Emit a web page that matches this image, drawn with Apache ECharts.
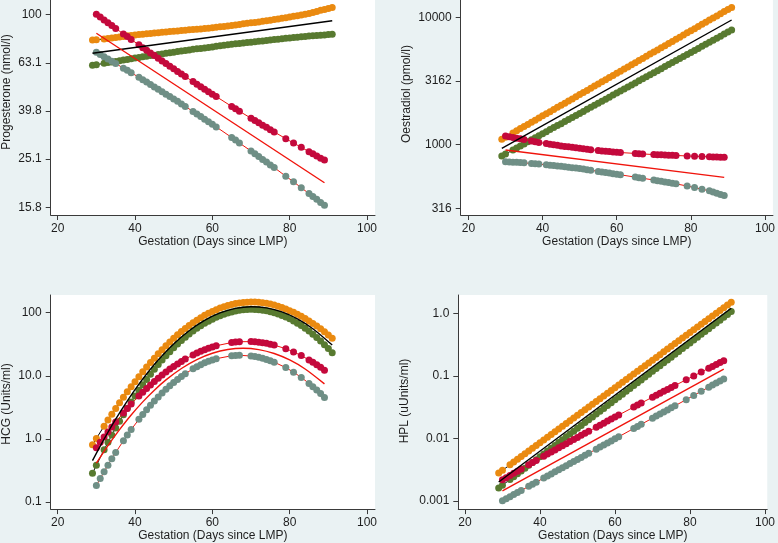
<!DOCTYPE html>
<html><head><meta charset="utf-8">
<script src="https://cdn.jsdelivr.net/npm/echarts@6/dist/echarts.min.js"></script>
<style>html,body{margin:0;padding:0;background:#eaf2f3}#c{width:778px;height:543px}</style>
</head><body><div id="c"></div>
<script>
// Days (x values). Values below are log10 of the hormone level, as plotted.
const daysAll = [29,30,32,33,34,35,36,37,38,39,40,41,42,43,44,45,46,47,48,49,50,51,52,53,54,55,56,57,58,59,60,61,62,63,64,65,66,67,68,69,70,71,72,73,74,75,76,77,78,79,80,81,82,83,84,85,86,87,88,89,90,91];
const daysCI = [30,31,32,33,34,35,37,38,39,41,42,43,44,45,46,47,48,49,50,51,52,53,55,56,57,58,59,60,61,65,66,67,70,71,72,73,74,75,76,79,81,83,85,86,87,88,89];
const xTicks = [20,40,60,80,100];

// Progesterone
const progOrange = [1.895,1.896,1.899,1.901,1.903,1.905,1.907,1.909,1.912,1.914,1.916,1.918,1.919,1.921,1.922,1.924,1.925,1.927,1.928,1.930,1.931,1.932,1.934,1.935,1.937,1.938,1.940,1.941,1.943,1.944,1.946,1.948,1.950,1.951,1.953,1.955,1.957,1.959,1.962,1.964,1.966,1.968,1.970,1.973,1.975,1.977,1.980,1.982,1.985,1.987,1.990,1.993,1.996,1.999,2.002,2.005,2.009,2.013,2.018,2.022,2.026,2.030];
const progGreen = [1.790,1.792,1.798,1.801,1.804,1.806,1.809,1.812,1.814,1.817,1.820,1.822,1.825,1.827,1.830,1.832,1.835,1.837,1.840,1.842,1.844,1.847,1.849,1.851,1.853,1.856,1.858,1.860,1.862,1.864,1.866,1.869,1.871,1.873,1.875,1.877,1.879,1.880,1.882,1.884,1.886,1.888,1.890,1.891,1.893,1.895,1.897,1.898,1.900,1.902,1.903,1.905,1.906,1.908,1.909,1.911,1.912,1.914,1.915,1.916,1.918,1.919];
const progCrimson = [2.002,1.990,1.978,1.967,1.955,1.943,1.920,1.909,1.897,1.875,1.863,1.852,1.841,1.830,1.819,1.808,1.797,1.786,1.775,1.764,1.754,1.743,1.722,1.711,1.701,1.690,1.680,1.670,1.660,1.619,1.609,1.599,1.570,1.560,1.551,1.541,1.532,1.522,1.513,1.485,1.467,1.449,1.431,1.422,1.413,1.404,1.396];
const progGray = [1.844,1.835,1.825,1.816,1.807,1.797,1.778,1.769,1.759,1.740,1.730,1.720,1.710,1.700,1.690,1.680,1.670,1.660,1.650,1.640,1.629,1.619,1.598,1.587,1.577,1.566,1.555,1.545,1.534,1.490,1.479,1.467,1.434,1.422,1.411,1.399,1.388,1.376,1.365,1.329,1.306,1.281,1.257,1.245,1.233,1.220,1.208];
const progBlack = [[29,1.840],[91,1.975]];
const progRed = [[30,1.923],[89,1.302]];
const progTicks = [1.2,1.4,1.6,1.8,2];
const progLabels = ['15.8','25.1','39.8','63.1','100'];

// Oestradiol
const oestOrange = [3.042,3.059,3.092,3.109,3.126,3.142,3.159,3.176,3.192,3.209,3.226,3.243,3.259,3.276,3.293,3.309,3.326,3.343,3.359,3.376,3.393,3.410,3.426,3.443,3.460,3.476,3.493,3.510,3.527,3.543,3.560,3.577,3.594,3.610,3.627,3.644,3.660,3.677,3.694,3.711,3.727,3.744,3.761,3.777,3.794,3.811,3.828,3.844,3.861,3.878,3.894,3.911,3.928,3.945,3.961,3.978,3.995,4.011,4.028,4.045,4.062,4.078];
const oestGreen = [2.910,2.926,2.958,2.974,2.990,3.006,3.022,3.038,3.054,3.070,3.086,3.102,3.118,3.134,3.150,3.165,3.181,3.197,3.213,3.229,3.245,3.261,3.277,3.293,3.309,3.325,3.341,3.357,3.373,3.389,3.405,3.421,3.437,3.453,3.469,3.485,3.501,3.517,3.533,3.549,3.565,3.581,3.597,3.613,3.629,3.645,3.661,3.676,3.692,3.708,3.724,3.740,3.756,3.772,3.788,3.804,3.820,3.836,3.852,3.868,3.884,3.900];
const oestCrimson = [3.068,3.062,3.057,3.051,3.046,3.040,3.029,3.023,3.017,3.008,3.004,2.999,2.995,2.990,2.986,2.983,2.979,2.975,2.971,2.968,2.964,2.960,2.954,2.951,2.949,2.946,2.943,2.940,2.938,2.931,2.929,2.927,2.922,2.921,2.920,2.918,2.917,2.916,2.915,2.911,2.909,2.907,2.904,2.903,2.902,2.901,2.900];
const oestGray = [2.866,2.864,2.862,2.861,2.859,2.857,2.852,2.850,2.847,2.842,2.839,2.836,2.833,2.830,2.826,2.823,2.819,2.816,2.812,2.808,2.803,2.799,2.790,2.786,2.781,2.777,2.772,2.768,2.763,2.745,2.740,2.736,2.722,2.717,2.712,2.707,2.702,2.697,2.692,2.675,2.663,2.650,2.637,2.628,2.619,2.609,2.600];
const oestBlack = [[29,2.971],[91,3.979]];
const oestRed = [[30,2.958],[89,2.743]];
const oestTicks = [2.5,3,3.5,4];
const oestLabels = ['316','1000','3162','10000'];

// HCG
const hcgOrange = [-0.093,0.008,0.203,0.299,0.392,0.483,0.573,0.661,0.746,0.828,0.907,0.987,1.064,1.138,1.210,1.279,1.348,1.414,1.477,1.537,1.595,1.649,1.702,1.751,1.798,1.841,1.882,1.921,1.958,1.990,2.020,2.047,2.073,2.095,2.114,2.130,2.144,2.155,2.162,2.167,2.170,2.168,2.165,2.158,2.149,2.136,2.122,2.103,2.083,2.058,2.032,2.005,1.976,1.943,1.907,1.869,1.830,1.789,1.744,1.697,1.646,1.594];
const hcgGreen = [-0.543,-0.417,-0.172,-0.054,0.061,0.173,0.280,0.385,0.487,0.586,0.682,0.772,0.859,0.943,1.025,1.104,1.178,1.249,1.317,1.382,1.445,1.503,1.559,1.612,1.662,1.709,1.752,1.793,1.831,1.865,1.897,1.926,1.952,1.975,1.995,2.012,2.026,2.037,2.045,2.050,2.053,2.051,2.047,2.040,2.029,2.016,2.000,1.979,1.957,1.930,1.902,1.869,1.834,1.795,1.753,1.709,1.659,1.607,1.551,1.492,1.431,1.367];
const hcgCrimson = [-0.139,-0.053,0.030,0.112,0.190,0.267,0.413,0.483,0.552,0.680,0.741,0.800,0.856,0.910,0.963,1.012,1.060,1.106,1.148,1.189,1.228,1.265,1.330,1.361,1.388,1.413,1.437,1.457,1.476,1.527,1.535,1.540,1.542,1.539,1.533,1.525,1.514,1.501,1.487,1.429,1.379,1.320,1.252,1.215,1.175,1.134,1.090];
const hcgGray = [-0.738,-0.627,-0.520,-0.415,-0.314,-0.215,-0.028,0.061,0.148,0.311,0.388,0.462,0.533,0.600,0.665,0.727,0.786,0.842,0.894,0.943,0.990,1.033,1.111,1.145,1.177,1.205,1.230,1.252,1.271,1.318,1.322,1.325,1.314,1.305,1.293,1.278,1.260,1.240,1.216,1.130,1.058,0.974,0.880,0.828,0.774,0.718,0.657];
const hcgBlack = [[29,-0.343],[31,-0.113],[33,0.106],[35,0.313],[37,0.509],[40,0.782],[43,1.028],[46,1.250],[50,1.505],[54,1.714],[58,1.878],[62,1.996],[66,2.068],[70,2.095],[74,2.076],[78,2.012],[82,1.902],[86,1.746],[91,1.487]];
const hcgRed = [[30,-0.383],[32,-0.196],[34,-0.019],[36,0.148],[39,0.379],[42,0.587],[45,0.772],[48,0.935],[52,1.116],[56,1.257],[60,1.357],[64,1.417],[68,1.436],[72,1.415],[76,1.353],[80,1.251],[84,1.108],[89,0.872]];
const hcgTicks = [-1,0,1,2];
const hcgLabels = ['0.1','1.0','10.0','100'];

// HPL
const hplOrange = [-2.557,-2.513,-2.425,-2.381,-2.337,-2.293,-2.248,-2.204,-2.160,-2.116,-2.072,-2.028,-1.984,-1.940,-1.896,-1.852,-1.808,-1.764,-1.719,-1.675,-1.631,-1.587,-1.543,-1.499,-1.455,-1.411,-1.367,-1.323,-1.279,-1.235,-1.190,-1.146,-1.102,-1.058,-1.014,-0.970,-0.926,-0.882,-0.838,-0.794,-0.750,-0.706,-0.662,-0.617,-0.573,-0.529,-0.485,-0.441,-0.397,-0.353,-0.309,-0.265,-0.221,-0.177,-0.133,-0.089,-0.044,0.000,0.044,0.088,0.132,0.176];
const hplGreen = [-2.797,-2.751,-2.660,-2.615,-2.569,-2.524,-2.478,-2.433,-2.387,-2.342,-2.296,-2.250,-2.205,-2.159,-2.114,-2.068,-2.023,-1.977,-1.932,-1.886,-1.840,-1.795,-1.749,-1.704,-1.658,-1.613,-1.567,-1.522,-1.476,-1.431,-1.385,-1.339,-1.294,-1.248,-1.203,-1.157,-1.112,-1.066,-1.021,-0.975,-0.929,-0.884,-0.838,-0.793,-0.747,-0.702,-0.656,-0.611,-0.565,-0.520,-0.474,-0.428,-0.383,-0.337,-0.292,-0.246,-0.201,-0.155,-0.110,-0.064,-0.018,0.027];
const hplCrimson = [-2.664,-2.630,-2.595,-2.561,-2.526,-2.492,-2.423,-2.389,-2.354,-2.287,-2.253,-2.220,-2.186,-2.153,-2.120,-2.086,-2.053,-2.019,-1.986,-1.953,-1.921,-1.888,-1.823,-1.791,-1.758,-1.725,-1.693,-1.660,-1.628,-1.501,-1.469,-1.437,-1.342,-1.311,-1.280,-1.249,-1.218,-1.187,-1.156,-1.063,-1.002,-0.941,-0.880,-0.850,-0.820,-0.789,-0.759];
const hplGray = [-3.000,-2.967,-2.934,-2.901,-2.868,-2.835,-2.769,-2.736,-2.703,-2.636,-2.603,-2.570,-2.537,-2.504,-2.471,-2.438,-2.405,-2.372,-2.339,-2.306,-2.273,-2.240,-2.174,-2.141,-2.108,-2.075,-2.042,-2.009,-1.976,-1.843,-1.810,-1.777,-1.678,-1.645,-1.612,-1.579,-1.546,-1.513,-1.480,-1.382,-1.314,-1.248,-1.182,-1.149,-1.116,-1.083,-1.050];
const hplBlack = [[29,-2.70],[91,0.08]];
const hplRed = [[30,-2.84],[89,-0.895]];
const hplTicks = [-3,-2,-1,0];
const hplLabels = ['0.001','0.01','0.1','1.0'];

const xTitle = 'Gestation (Days since LMP)';
const panels = [
  {title:'Progesterone (nmol/l)', ticks:progTicks, labels:progLabels, o:progOrange, g:progGreen, c:progCrimson, s:progGray, k:progBlack, r:progRed,
   pos:{left:50.7, top:0, width:324.3, height:215}, x:[18.19,102.07], y:[1.168,2.061], tpos:[7,92]},
  {title:'Oestradiol (pmol/l)', ticks:oestTicks, labels:oestLabels, o:oestOrange, g:oestGreen, c:oestCrimson, s:oestGray, k:oestBlack, r:oestRed,
   pos:{left:460.7, top:0, width:314.3, height:215}, x:[17.91,102.14], y:[2.4474,4.136], tpos:[407,94]},
  {title:'HCG (Units/ml)', ticks:hcgTicks, labels:hcgLabels, o:hcgOrange, g:hcgGreen, c:hcgCrimson, s:hcgGray, k:hcgBlack, r:hcgRed,
   pos:{left:50.7, top:295, width:324.3, height:214.3}, x:[18.19,102.07], y:[-1.111,2.28], tpos:[7,404]},
  {title:'HPL (uUnits/ml)', ticks:hplTicks, labels:hplLabels, o:hplOrange, g:hplGreen, c:hplCrimson, s:hplGray, k:hplBlack, r:hplRed,
   pos:{left:458.3, top:295, width:311.7, height:214.3}, x:[18.23,100.6], y:[-3.133,0.292], tpos:[405,401]}
];

const FONT = '"Liberation Sans", Arial, sans-serif';
const TXT = '#1e1e1e';
const AX = '#3a3a3a';
const COL = {orange:'#ea8a10', green:'#587a30', crimson:'#c4093c', gray:'#6f8f86', red:'#f0140c', black:'#000000'};

const grids = [], xAxes = [], yAxes = [], series = [], graphics = [];
panels.forEach((p, i) => {
  grids.push(Object.assign({show:true, backgroundColor:'#ffffff', borderWidth:0, containLabel:false}, p.pos));
  xAxes.push({type:'value', gridIndex:i, min:p.x[0], max:p.x[1],
    name:xTitle, nameLocation:'middle', nameGap:20,
    nameTextStyle:{fontFamily:FONT, fontSize:12, color:TXT},
    axisLine:{show:true, onZero:false, lineStyle:{color:AX, width:1}},
    axisTick:{show:true, length:5, customValues:xTicks, lineStyle:{color:AX}},
    axisLabel:{customValues:xTicks, margin:8, fontFamily:FONT, fontSize:12, color:TXT},
    splitLine:{show:false}});
  const tk = p.ticks, lb = p.labels;
  yAxes.push({type:'value', gridIndex:i, min:p.y[0], max:p.y[1],
    axisLine:{show:true, onZero:false, lineStyle:{color:AX, width:1}},
    axisTick:{show:true, length:5, customValues:tk, lineStyle:{color:AX}},
    axisLabel:{customValues:tk, margin:9, fontFamily:FONT, fontSize:12, color:TXT,
      formatter:v => { let j = 0, best = 1e9; tk.forEach((t, k) => { if (Math.abs(t - v) < best) { best = Math.abs(t - v); j = k; } }); return lb[j]; }},
    splitLine:{show:false}});
  graphics.push({type:'text', x:p.tpos[0], y:p.tpos[1], rotation:Math.PI / 2, silent:true,
    style:{text:p.title, font:'12px ' + FONT, fill:TXT, textAlign:'center', textVerticalAlign:'middle'}});
  const dots = (days, vals, color, lineColor, z) => ({type:'line', xAxisIndex:i, yAxisIndex:i,
    data:days.map((d, k) => [d, vals[k]]), symbol:'circle', symbolSize:7, showSymbol:true,
    itemStyle:{color:color, borderWidth:0}, lineStyle:{color:lineColor, width:1}, z:z, silent:true, animation:false});
  const fit = (pts, color) => ({type:'line', xAxisIndex:i, yAxisIndex:i, data:pts, showSymbol:false, symbol:'none',
    smooth:pts.length > 2 ? 0.3 : false, lineStyle:{color:color, width:1.4}, z:5, silent:true, animation:false});
  series.push(dots(daysAll, p.o, COL.orange, COL.black, 2));
  series.push(dots(daysAll, p.g, COL.green, COL.black, 2));
  series.push(dots(daysCI, p.c, COL.crimson, COL.red, 3));
  series.push(dots(daysCI, p.s, COL.gray, COL.red, 3));
  series.push(fit(p.k, COL.black));
  series.push(fit(p.r, COL.red));
});

const chart = echarts.init(document.getElementById('c'), null, {renderer:'canvas'});
chart.setOption({backgroundColor:'#eaf2f3', animation:false, grid:grids, xAxis:xAxes, yAxis:yAxes, series:series, graphic:graphics});
</script></body></html>
